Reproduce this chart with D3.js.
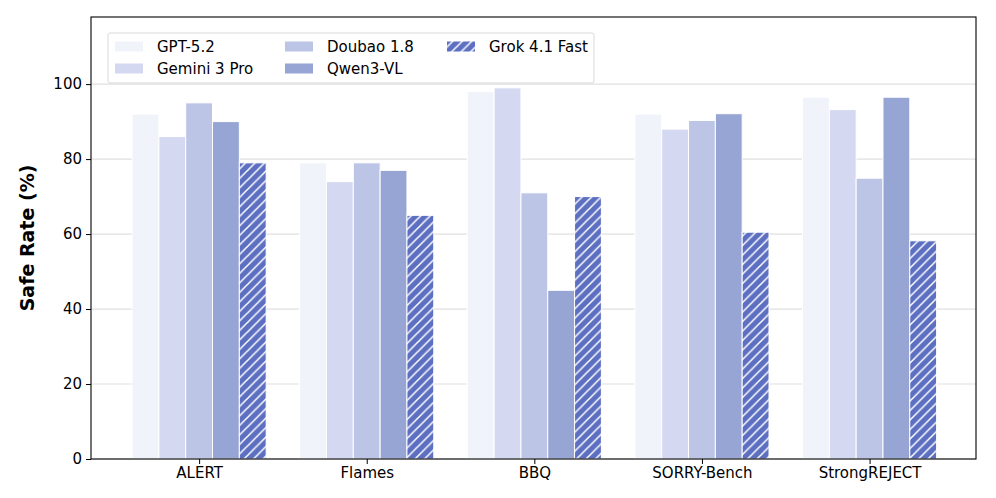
<!DOCTYPE html>
<html><head><meta charset="utf-8">
<script src="https://cdn.jsdelivr.net/npm/d3@7"></script>
<style>body{margin:0;background:#fff}svg{display:block}text{font-family:"DejaVu Sans",sans-serif}</style>
</head><body>
<svg id="c" width="996" height="498"></svg>
<script>
const categories = ["ALERT", "Flames", "BBQ", "SORRY-Bench", "StrongREJECT"];
const models = ["GPT-5.2", "Gemini 3 Pro", "Doubao 1.8", "Qwen3-VL", "Grok 4.1 Fast"];
const gpt52 = [92, 79, 98, 92, 96.5];
const gemini3 = [86, 74, 99, 88, 93.2];
const doubao18 = [95, 79, 71, 90.3, 74.9];
const qwen3vl = [90, 77, 45, 92.1, 96.5];
const grok41 = [79, 65, 70, 60.5, 58.2];
const yTicks = [0, 20, 40, 60, 80, 100];
const colors = ["#f0f3f9", "#d4d8f1", "#bdc5e6", "#96a5d4", "#5d6fc1"];
const series = [gpt52, gemini3, doubao18, qwen3vl, grok41];

const svg = d3.select("#c");
const L = 91, R = 976, T = 17, B = 459;
const x = d3.scaleLinear().domain([-0.645, 4.635]).range([L, R]);
const y = d3.scaleLinear().domain([0, 117.9]).range([B, T]);
const bw = 0.16;

const defs = svg.append("defs");
const pat = defs.append("pattern").attr("id", "hatch").attr("patternUnits", "userSpaceOnUse")
  .attr("width", 9.5).attr("height", 9.5);
pat.append("rect").attr("width", 9.5).attr("height", 9.5).attr("fill", colors[4]);
pat.append("path").attr("d", "M-1,10.5 L10.5,-1 M-1,1 L1,-1 M8.5,10.5 L10.5,8.5")
  .attr("stroke", "#fff").attr("stroke-width", 1.5);

// grid
svg.append("g").selectAll("line").data(yTicks).join("line")
  .attr("x1", L).attr("x2", R).attr("y1", d => y(d)).attr("y2", d => y(d))
  .attr("stroke", "#e0e0e0").attr("stroke-width", 1.2);

// bars
series.forEach((vals, si) => {
  svg.append("g").selectAll("rect").data(vals).join("rect")
    .attr("x", (d, i) => x(i + (si - 2.5) * bw))
    .attr("width", x(bw) - x(0))
    .attr("y", d => y(d))
    .attr("height", d => B - y(d))
    .attr("fill", si === 4 ? "url(#hatch)" : colors[si])
    .attr("stroke", "#fff").attr("stroke-width", 1);
});

// frame
svg.append("rect").attr("x", L).attr("y", T).attr("width", R - L).attr("height", B - T)
  .attr("fill", "none").attr("stroke", "#000").attr("stroke-width", 1.1);

// axes
const yAxis = d3.axisLeft(y).tickValues(yTicks).tickSize(5).tickPadding(4);
const gy = svg.append("g").attr("transform", `translate(${L},0)`).call(yAxis);
gy.select(".domain").remove();
gy.selectAll("text").attr("font-size", 15).attr("fill", "#000").attr("font-family", "DejaVu Sans");

const xAxis = d3.axisBottom(x).tickValues(d3.range(categories.length)).tickFormat(i => categories[i]).tickSize(5).tickPadding(3);
const gx = svg.append("g").attr("transform", `translate(0,${B})`).call(xAxis);
gx.select(".domain").remove();
gx.selectAll("text").attr("font-size", 15).attr("fill", "#000").attr("font-family", "DejaVu Sans");

svg.append("text").attr("transform", `translate(34,${238}) rotate(-90)`)
  .attr("text-anchor", "middle").attr("font-size", 19).attr("font-weight", "bold").text("Safe Rate (%)");

// legend
const lg = svg.append("g");
lg.append("rect").attr("x", 108).attr("y", 33).attr("width", 486).attr("height", 50).attr("rx", 2)
  .attr("fill", "#fff").attr("fill-opacity", 0.85).attr("stroke", "#d9d9d9").attr("stroke-width", 1);
const pos = [[115, 46.5], [115, 68.5], [285, 46.5], [285, 68.5], [447, 46.5]];
models.forEach((m, i) => {
  const [px, py] = pos[i];
  lg.append("rect").attr("x", px).attr("y", py - 5).attr("width", 28).attr("height", 10)
    .attr("fill", i === 4 ? "url(#hatch)" : colors[i]);
  lg.append("text").attr("x", px + 42).attr("y", py + 5.5).attr("font-size", 15).text(m);
});
</script>
</body></html>
